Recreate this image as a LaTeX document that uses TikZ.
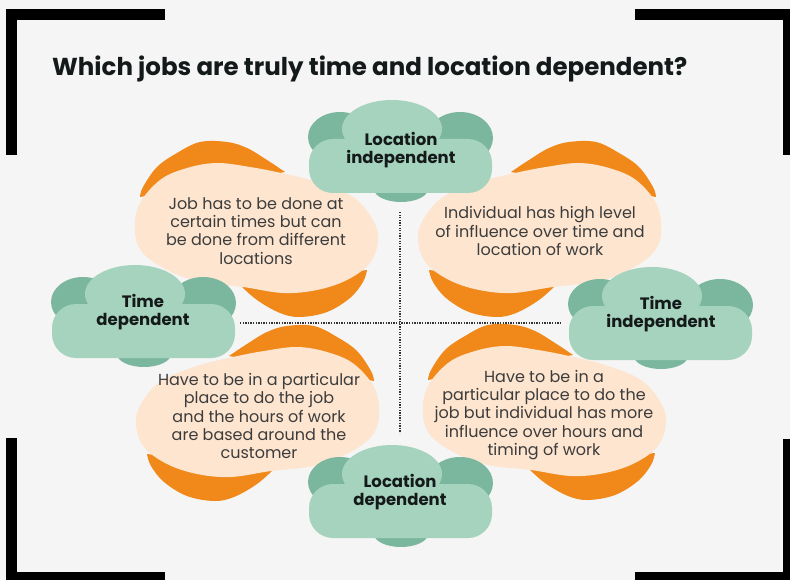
\documentclass[tikz,border=0pt]{standalone}
\usepackage{fontspec}
\setmainfont{Poppins}
\definecolor{bg}{HTML}{F5F5F5}
\definecolor{orng}{HTML}{F0881A}
\definecolor{peach}{HTML}{FDE5CF}
\definecolor{clight}{HTML}{A6D3BE}
\definecolor{cdark}{HTML}{7BB79E}
\definecolor{bodytxt}{HTML}{3C3C3C}
\definecolor{headtxt}{HTML}{141A1A}
% blob with orange at top-left and bottom-right
\newcommand\myblob{%
 \fill[orng] plot[smooth, tension=0.6] coordinates {(-116,-33) (-113,-43) (-99,-63) (-79,-77) (-56,-88) (-29,-88) (-9,-82) (11,-70) (29,-58)} -- cycle;
 \fill[orng] plot[smooth, tension=0.6] coordinates {(-16,55) (1,70) (24,83) (44,87) (71,82) (94,68) (107,52) (111,40)} -- cycle;
 \fill[peach] plot[smooth cycle, tension=0.6] coordinates {(-121,3) (-117,-25) (-96,-50) (-69,-62) (-39,-67) (-6,-63) (25,-57) (61,-48) (97,-33) (117,-10) (122,10) (114,33) (91,50) (61,60) (27,63) (-13,57) (-56,52) (-89,40) (-113,23)};
}
% mirrored blob: orange at top-right and bottom-left
\newcommand\myblobm{%
 \fill[orng] plot[smooth, tension=0.6] coordinates {(116,-33) (113,-43) (99,-63) (79,-77) (56,-88) (29,-88) (9,-82) (-11,-70) (-29,-58)} -- cycle;
 \fill[orng] plot[smooth, tension=0.6] coordinates {(16,55) (-1,70) (-24,83) (-44,87) (-71,82) (-94,68) (-107,52) (-111,40)} -- cycle;
 \fill[peach] plot[smooth cycle, tension=0.6] coordinates {(121,3) (117,-25) (96,-50) (69,-62) (39,-67) (6,-63) (-25,-57) (-61,-48) (-97,-33) (-117,-10) (-122,10) (-114,33) (-91,50) (-61,60) (-27,63) (13,57) (56,52) (89,40) (113,23)};
}
\newcommand\mycloud{%
 \fill[cdark] (-60,-14) ellipse [x radius=32pt, y radius=25pt];
 \fill[cdark] (60,-13) ellipse [x radius=33pt, y radius=26pt];
 \fill[cdark] (1,38) ellipse [x radius=27pt, y radius=13pt];
 \fill[clight] (-8,-22) ellipse [x radius=50pt, y radius=29pt];
 \fill[clight, rounded corners=24pt] (-91,-12) rectangle (92,42);
}
\tikzset{
 bodytext/.style={align=center, text=bodytxt, font=\fontsize{16}{18.3}\selectfont, inner sep=0pt},
 cloudtext/.style={align=center, text=headtxt, font=\bfseries\fontsize{16.5}{17.5}\selectfont, inner sep=0pt},
 framebar/.style={line width=11pt, black, line join=miter},
 dotline/.style={line width=1.6pt, draw=black!80, dash pattern=on 1.3pt off 1.3pt},
}
\begin{document}
\begin{tikzpicture}[x=1pt,y=-1pt]
\useasboundingbox (0,0) rectangle (790,580);
\fill[bg] (0,0) rectangle (790,580);
\begin{scope}
\clip (0,0) rectangle (790,580);
\draw[framebar] (165,14.5) -- (11.5,14.5) -- (11.5,155);
\draw[framebar] (635,14.5) -- (788.5,14.5) -- (788.5,155);
\draw[framebar] (11.5,438) -- (11.5,577.5) -- (165,577.5);
\draw[framebar] (635,577.5) -- (788.5,577.5) -- (788.5,439);
\end{scope}
\node[anchor=base west, inner sep=0pt, text=headtxt, font=\bfseries\fontsize{24.5}{27}\selectfont] (title) at (52,76) {Which jobs are truly time and location dependent?};
% blobs
\begin{scope}[shift={(256,230)}] \myblob \end{scope}
\begin{scope}[shift={(540,230)}] \myblobm \end{scope}
\begin{scope}[shift={(258,414)}] \myblobm \end{scope}
\begin{scope}[shift={(544,413)}] \myblob \end{scope}
% dotted cross
\coordinate (vt) at (400,212);
\coordinate (vb) at (400,433);
\coordinate (hl) at (240,323);
\coordinate (hr) at (560,323);
\draw[dotline] (vt) -- (vb);
\draw[dotline] (hl) -- (hr);
% clouds
\begin{scope}[shift={(400,151)}] \mycloud \end{scope}
\begin{scope}[shift={(143,316)}] \mycloud \end{scope}
\begin{scope}[shift={(660,318)}] \mycloud \end{scope}
\begin{scope}[shift={(400,496)}] \mycloud \end{scope}
% texts
\node[bodytext] (tl) at (256,231) {Job has to be done at\\certain times but can\\be done from different\\locations};
\node[bodytext] (tr) at (540,231) {Individual has high level\\of influence over time and\\location of work};
\node[bodytext] (bl) at (259,416) {Have to be in a particular\\place to do the job\\and the hours of work\\are based around the\\customer};
\node[bodytext] (br) at (544,415) {Have to be in a\\particular place to do the\\job but individual has more\\influence over hours and\\timing of work};
\node[cloudtext] (ctop) at (401,150) {Location\\independent};
\node[cloudtext] (cleft) at (143,312) {Time\\dependent};
\node[cloudtext] (cright) at (661,314) {Time\\independent};
\node[cloudtext] (cbot) at (400,492) {Location\\dependent};
\end{tikzpicture}
\end{document}
